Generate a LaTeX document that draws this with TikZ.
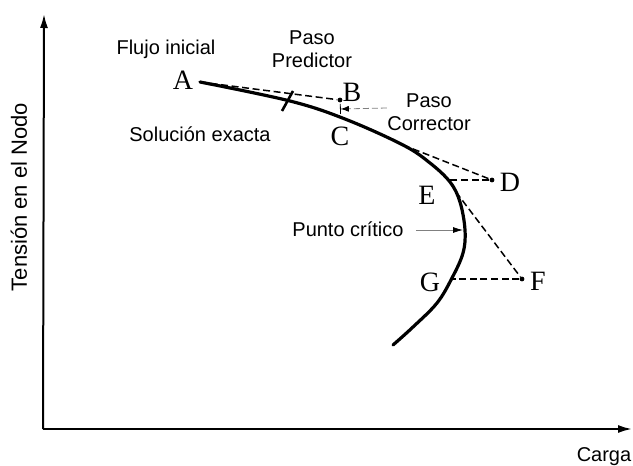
\documentclass[tikz,border=0pt]{standalone}
\usepackage{fontspec}
\setmainfont{Liberation Sans}
\newfontfamily\ptfont{Liberation Serif}
\usetikzlibrary{arrows.meta}

\begin{document}
\begin{tikzpicture}[x=0.5pt,y=-0.5pt,
  axis/.style={line width=1pt,-{Latex[length=7pt,width=4pt]}},
  curve/.style={line width=1.6pt,line cap=round},
  predline/.style={line width=0.75pt,dash pattern=on 3.5pt off 1.8pt},
  dotmark/.style={circle,fill,inner sep=0pt,minimum size=2.4pt},
  ptlabel/.style={font=\ptfont\fontsize{14}{14}\selectfont,inner sep=0pt},
  txt/.style={font=\fontsize{10}{11.5}\selectfont,align=center,inner sep=0pt},
  pointer/.style={gray,line width=0.4pt},
]
\useasboundingbox (0,0) rectangle (633,466);

% axes
\coordinate (O) at (43,429);
\coordinate (ytop) at (44,14);
\coordinate (xend) at (632,429);
\draw[axis] (O) -- (ytop);
\draw[axis] (O) -- (xend);
\node[txt,font=\fontsize{11}{12}\selectfont,rotate=90] (ylab) at (19,197) {Tensión en el Nodo};
\node[txt] (xlab) at (604,457) {Carga};

% exact solution curve
\draw[curve] plot[smooth,tension=0.6] coordinates {
  (200,82) (290,101) (345,119) (403,145) (430,163) (450,182) (460,202)
  (465,230) (463,253) (452,278) (437,303) (413,327) (393,345)};

% points on and off the curve
\coordinate (pA) at (200,82);
\node[dotmark] (pB) at (340,100) {};
\coordinate (pC) at (403,145);
\node[dotmark] (pD) at (492,180) {};
\coordinate (pE) at (449,180);
\coordinate (pE2) at (456,192);
\node[dotmark] (pF) at (522,279) {};
\coordinate (pG) at (452,279);

% predictor / corrector steps
\draw[predline] (pA) -- (pB);
\draw[predline] (pC) -- (pD);
\draw[predline] (pD) -- (pE);
\draw[predline] (pE2) -- (pF);
\draw[predline] (pF) -- (pG);

% exact solution tick
\draw[line width=1.3pt] (293,91) -- (282,111);

% point labels
\node[ptlabel] (lA) at (183,80) {A};
\node[ptlabel] (lB) at (352,92) {B};
\node[ptlabel] (lC) at (340,136) {C};
\node[ptlabel] (lD) at (510,182) {D};
\node[ptlabel] (lE) at (427,195) {E};
\node[ptlabel] (lF) at (538,281) {F};
\node[ptlabel] (lG) at (430,282) {G};

% texts
\node[txt] (flujo) at (166,49) {Flujo inicial};
\node[txt] (pred) at (312,49) {Paso\\Predictor};
\node[txt] (exacta) at (200,134) {Solución exacta};
\node[txt] (corr) at (429,112) {Paso\\Corrector};
\node[txt] (critico) at (348,229) {Punto crítico};

% pointers
\coordinate (corrtip) at (340,109);
\coordinate (crittip) at (463,230);
\draw[pointer,dash pattern=on 3pt off 1.5pt,
  -{Latex[length=4pt,width=3pt,black] Bar[width=5pt,black]}]
  (corr.west |- 0,108) -- (corrtip);
\draw[pointer,-{Latex[length=5pt,width=3pt,black]}] (critico.east |- 0,230) ++(12,0) -- (crittip);
\end{tikzpicture}
\end{document}
